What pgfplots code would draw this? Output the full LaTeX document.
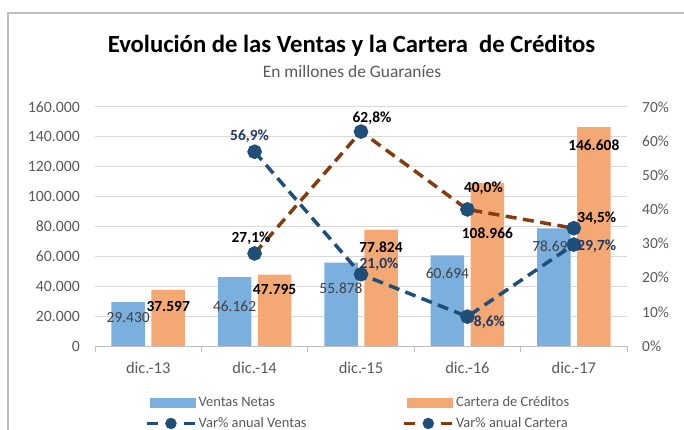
\documentclass[border=0pt]{standalone}
\usepackage{fontspec}
\setmainfont{Carlito}
\usepackage{pgfplots}
\usepackage{pgfplotstable}
\pgfplotsset{compat=1.18}
\definecolor{barblue}{HTML}{7BAFDE}
\definecolor{barorange}{HTML}{F4A974}
\definecolor{lineblue}{HTML}{1F4E79}
\definecolor{linebrown}{HTML}{843C0C}
\definecolor{ticktext}{HTML}{595959}
\definecolor{gridc}{HTML}{D9D9D9}
\definecolor{axisc}{HTML}{BFBFBF}
\definecolor{lblblue}{HTML}{1F3864}
\definecolor{lblgray}{HTML}{404040}

\pgfplotstableread{
x y dy
0 29430 -16
1 46162 -29
2 55878 -25.5
3 60694 -18
4 78696 -18
}\ventas
\pgfplotstableread{
x y dy
0 37597 -17
1 47795 -15
2 77824 -17
3 108966 -50
4 146608 -18
}\cartera
\pgfplotstableread{
x y dx dy
1 56.9 -5 15.5
2 21.0 18 10
3 8.6 22 -6
4 29.7 23 -2
}\varventas
\pgfplotstableread{
x y dx dy
1 27.1 -3.6 15.5
2 62.8 11 13
3 40.0 16 21
4 34.5 23 10
}\varcartera

\begin{document}
\begin{tikzpicture}
\useasboundingbox (0,0) rectangle (684bp,430bp);
\draw[axisc, line width=1.5bp] (8bp,-10bp) -- (8bp,417bp) -- (700bp,417bp);
\begin{axis}[
  at={(95bp,84bp)}, anchor=south west,
  scale only axis, width=532bp, height=239bp,
  xmin=-0.5, xmax=4.5, ymin=0, ymax=160000,
  enlargelimits=false,
  ybar=6.5bp, bar width=33.5bp,
  axis x line*=bottom, axis y line*=left,
  y axis line style={draw=none},
  x axis line style={draw=axisc, line width=1bp},
  xtick={-0.5,0.5,...,4.5},
  x tick label as interval,
  xticklabels={dic.-13,dic.-14,dic.-15,dic.-16,dic.-17},
  tick align=outside,
  major tick length=6bp,
  xtick style={draw=axisc, line width=1bp},
  ytick={0,20000,...,160000},
  ytick style={draw=none},
  scaled y ticks=false,
  ymajorgrids, grid style={gridc, line width=1bp},
  /pgf/number format/fixed,
  /pgf/number format/precision=0,
  /pgf/number format/assume math mode=true,
  /pgf/number format/1000 sep={.},
  yticklabel style={font=\fontsize{15.8}{18}\selectfont, text=ticktext, inner sep=0pt, xshift=-9bp},
  xticklabel style={font=\fontsize{16.5}{19}\selectfont, text=ticktext, inner sep=0pt, yshift=-10bp},
  nodes near coords={\pgfmathprintnumber[fixed,precision=0,1000 sep={.},assume math mode=true]{\pgfplotspointmeta}},
  visualization depends on={\thisrow{dy}\as\dy},
]
\addplot[fill=barblue, draw=none,
  every node near coord/.append style={anchor=center, yshift=\dy bp, text=lblgray, font=\fontsize{15.5}{18}\selectfont}]
  table[x=x,y=y]{\ventas};
\addplot[fill=barorange, draw=none,
  every node near coord/.append style={anchor=center, yshift=\dy bp, text=black, font=\bfseries\fontsize{15.5}{18}\selectfont}]
  table[x=x,y=y]{\cartera};
\end{axis}
\begin{axis}[
  at={(95bp,84bp)}, anchor=south west,
  scale only axis, width=532bp, height=239bp,
  xmin=-0.5, xmax=4.5, ymin=0, ymax=70,
  enlargelimits=false,
  axis y line*=right, axis x line=none,
  y axis line style={draw=none},
  ytick={0,10,...,70},
  ytick style={draw=none},
  /pgf/number format/fixed,
  /pgf/number format/assume math mode=true,
  yticklabel={\pgfmathprintnumber{\tick}\%},
  yticklabel style={font=\fontsize{15.5}{18}\selectfont, text=ticktext, inner sep=0pt, xshift=15bp},
  nodes near coords={\pgfmathprintnumber[fixed,fixed zerofill,precision=1,use comma,assume math mode=true]{\pgfplotspointmeta}\%},
  visualization depends on={\thisrow{dx}\as\dx},
  visualization depends on={\thisrow{dy}\as\dy},
  legend columns=2,
  legend cell align=left,
  legend style={at={(axis description cs:0.094,-0.203)}, anchor=north west,
    draw=none, fill=none, inner sep=0pt,
    font=\fontsize{14.5}{17}\selectfont, text=ticktext,
    row sep=5.5bp,
    /tikz/every even column/.append style={column sep=94bp}},
]
\addlegendimage{legend image code/.code={\fill[barblue] (3bp,-4.5bp) rectangle (48bp,4.5bp);}}
\addlegendentry{Ventas Netas}
\addlegendimage{legend image code/.code={\fill[barorange] (3bp,-4.5bp) rectangle (48bp,4.5bp);}}
\addlegendentry{Cartera de Créditos}
\addlegendimage{legend image code/.code={\draw[lineblue,line width=3.5bp] (0bp,0)--(11bp,0) (37bp,0)--(48bp,0); \fill[lineblue] (24bp,0) circle (5.5bp);}}
\addlegendentry{Var\% anual Ventas}
\addlegendimage{legend image code/.code={\draw[linebrown,line width=3.5bp] (0bp,0)--(11bp,0) (37bp,0)--(48bp,0); \fill[lineblue] (24bp,0) circle (5.5bp);}}
\addlegendentry{Var\% anual Cartera}
\addplot[forget plot, lineblue, line width=3.5bp, dash pattern=on 11bp off 6.5bp,
  mark=*, mark size=5.5bp, mark options={solid, fill=lineblue, draw=lineblue},
  every node near coord/.append style={anchor=center, xshift=\dx bp, yshift=\dy bp, text=lblblue, font=\bfseries\fontsize{15.5}{18}\selectfont}]
  table[x=x,y=y]{\varventas};
\addplot[forget plot, linebrown, line width=3.5bp, dash pattern=on 11bp off 6.5bp,
  mark=*, mark size=5.5bp, mark options={solid, fill=lineblue, draw=lineblue},
  every node near coord/.append style={anchor=center, xshift=\dx bp, yshift=\dy bp, text=black, font=\bfseries\fontsize{15.5}{18}\selectfont}]
  table[x=x,y=y]{\varcartera};
\end{axis}
\node[anchor=base, font=\bfseries\fontsize{24.8}{29}\selectfont] at (351.5bp,377bp) {Evolución de las Ventas y la Cartera~ de Créditos};
\node[anchor=base, text=ticktext, font=\fontsize{17.5}{20}\selectfont] at (352bp,352bp) {En millones de Guaraníes};
\end{tikzpicture}
\end{document}
